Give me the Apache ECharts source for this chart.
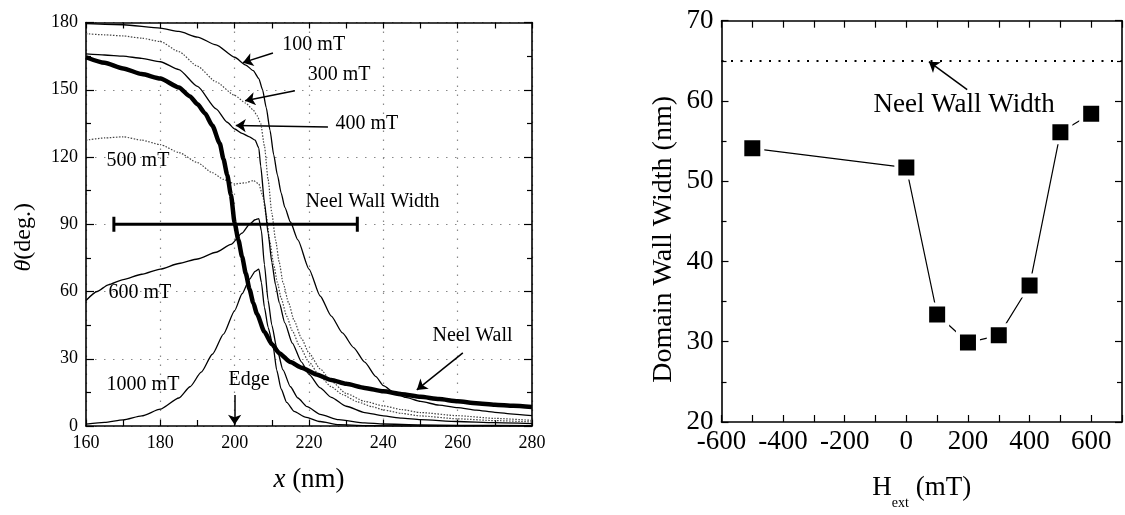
<!DOCTYPE html>
<html>
<head>
<meta charset="utf-8">
<script src="https://cdn.jsdelivr.net/npm/echarts@6/dist/echarts.min.js"></script>
<style>
html, body { margin: 0; padding: 0; background: #fff; }
#chart { width: 1125px; height: 515px; }
</style>
</head>
<body>
<div id="chart"></div>
<script>
var serif = 'Liberation Serif';

// left panel : theta(x) profiles for several fields, x in nm, theta in deg
var neelWall = [[160,164.5],[165,162],[170,159.5],[175,157],[180,155],[185,151],[188,147],[190,143.5],[192,139.5],[194,134],[196,126],[197,119],[198,112],[199,103],[200,90.5],[201,83],[202,75.5],[203,68],[204,61],[205,55],[206,50],[208,42],[210,36.5],[212,32.5],[215,28.5],[218,26],[222,23],[226,20.5],[230,18.8],[235,17],[240,15.5],[245,14.2],[250,13],[255,12],[260,11],[265,10.2],[270,9.5],[275,9],[280,8.5]];
var field100 = [[160,179.5],[170,179],[180,177.5],[185,176],[190,173.5],[195,170],[200,164.5],[203,161],[205,158.5],[206.5,155],[207.5,150],[208.5,142],[209.5,132],[210.5,121],[211.5,112],[212.5,104],[213.5,97.5],[215,91],[217,83],[220,70],[223,58],[226,49],[229,41.5],[232,35],[235,28.5],[238,22],[240,18],[243,14.8],[246,12.8],[250,11],[255,9.3],[260,8.2],[265,7.1],[270,6.1],[275,5.3],[280,4.6]];
var field300 = [[160,175],[165,174.5],[170,174],[175,173],[180,171.5],[185,167],[190,160.5],[195,153.5],[200,147.5],[203,144],[205,141],[206,138.5],[207,135],[208,125],[209,110],[210,95],[211,83],[212,73],[213,64],[214.5,55],[216,47],[218,39],[220,32.5],[223,25.5],[226,20],[230,14.5],[235,11],[240,9],[245,7.3],[250,6],[260,4.6],[270,3.4],[280,2.5]];
var field400 = [[160,166],[165,165.5],[170,165],[175,164],[180,162.5],[185,159],[190,151.5],[195,141.5],[198,135.5],[200,132.5],[202,130.5],[204,129],[205.5,127.5],[206.5,124],[207,116],[208,100],[209,86],[210,73],[211,63],[212,55],[213.5,46],[215.5,37],[218,28.5],[220,23],[223,17],[226,12.8],[230,8.8],[235,6],[240,4.5],[245,3.5],[250,2.8],[260,2],[270,1.5],[280,1.1]];
var field500 = [[160,127.5],[165,128.5],[170,129],[175,127.5],[180,125.5],[185,122],[190,117.5],[194,113],[197,110],[200,108],[203,108.5],[205,109.5],[206.5,108],[207.5,103],[208.5,94],[209.5,82],[210.5,72],[211.5,64],[212.5,57],[214,49],[215.5,42.5],[217.5,35.5],[220,28.5],[223,22],[226,17.5],[229,14],[233,10.8],[237,8.6],[240,7.2],[245,5.6],[250,4.5],[260,3.2],[270,2.4],[280,1.8]];
var field600 = [[160,56],[163,60],[166,63],[170,65.3],[175,67.7],[180,70],[185,72.5],[190,74.5],[195,77.5],[199,81],[202,86],[204,90],[205.5,92],[206.5,92.5],[207.2,87],[208,72],[209,56],[210,45],[211.3,35],[213,25],[215,17.5],[217,12.5],[219.5,8.6],[223,5.2],[228,2.8],[235,1.4],[240,0.9],[250,0.5],[260,0.3],[280,0.2]];
var field1000 = [[160,0.8],[165,1.6],[170,2.7],[175,4.5],[180,7.5],[185,12.5],[188,17.5],[191,24],[194,32],[197,41],[200,51.5],[202,59],[204,65.5],[205.5,69],[206.5,70],[207.2,64],[208,53],[209,44],[210.4,35],[211.3,25],[212.5,16.5],[214,10.5],[216,6.5],[219,4],[223,2],[228,0.6],[235,0.2],[250,0],[280,0]];
var wallBar = [[167.5, 90], [233, 90]];

// right panel : domain wall width vs external field
var hExt = [-500, 0, 100, 200, 300, 400, 500, 600];
var wallWidth = [54.1, 51.7, 33.4, 29.9, 30.8, 37.0, 56.1, 58.4];
var neelWidth = 65;

// annotations, in data units
var leftLabels = [
  {name: '100 mT', value: [212.7, 169.9]},
  {name: '300 mT', value: [219.5, 156.6]},
  {name: '400 mT', value: [227, 134.7]},
  {name: '500 mT', value: [165.4, 118.2]},
  {name: 'Neel Wall Width', value: [218.9, 99.9]},
  {name: '600 mT', value: [165.9, 59.3]},
  {name: '1000 mT', value: [165.4, 18.3]},
  {name: 'Edge', value: [198.2, 20.5]},
  {name: 'Neel Wall', value: [253.1, 40.1]}
];
var leftArrows = [
  [[210.3, 166.4], [202.2, 162.1]],
  [[216.2, 149.6], [202.8, 145.1]],
  [[225.1, 133.4], [200.3, 134.1]],
  [[200, 13.8], [200, 0.6]],
  [[261.4, 32.6], [249, 16.1]]
];
var rightLabels = [{name: 'Neel Wall Width', value: [-108.3, 59.5]}];
var rightArrows = [[[197.5, 61.4], [73.2, 64.9]]];

var solid = {color: '#000', width: 1.3};
var dotted = {color: '#444', width: 1.2, type: [1.5, 1.5]};

function curve(name, data, style) {
  return {
    name: name, type: 'line', data: data,
    xAxisIndex: 0, yAxisIndex: 0,
    symbol: 'none', smooth: 0.2, smoothMonotone: 'x',
    lineStyle: style, z: 3, silent: true
  };
}

var tickStyle = {color: '#000', width: 1.2};
var axisLine = {show: true, onZero: false, lineStyle: {color: '#000', width: 1.6}};
var gridDots = {show: true, lineStyle: {color: '#888', width: 1.2, type: [1.5, 7.5]}};

function mirror(base) {
  return Object.assign({
    axisLabel: {show: false},
    splitLine: {show: false}
  }, base);
}

var mychart = echarts.init(document.getElementById('chart'));

var option = {
  animation: false,
  backgroundColor: '#fff',
  textStyle: {fontFamily: serif, color: '#000'},
  grid: [
    {left: 86, top: 22.5, width: 446, height: 403.5},
    {left: 721.5, top: 20.7, width: 407.3, height: 409.3}
  ],
  xAxis: [
    {
      gridIndex: 0, type: 'value', position: 'bottom', min: 160, max: 280, interval: 20,
      axisLine: axisLine,
      axisTick: {inside: true, length: 6, lineStyle: tickStyle},
      minorTick: {show: true, splitNumber: 2, length: 6, lineStyle: tickStyle},
      axisLabel: {fontFamily: serif, fontSize: 18, color: '#000', margin: 8},
      splitLine: gridDots,
      name: '{i|x} (nm)', nameLocation: 'middle', nameGap: 40,
      nameTextStyle: {fontFamily: serif, fontSize: 27, color: '#000',
        rich: {i: {fontFamily: serif, fontSize: 27, fontStyle: 'italic', color: '#000'}}}
    },
    mirror({
      gridIndex: 0, type: 'value', position: 'top', min: 160, max: 280, interval: 20,
      axisLine: axisLine,
      axisTick: {inside: true, length: 6, lineStyle: tickStyle},
      minorTick: {show: true, splitNumber: 2, length: 6, lineStyle: tickStyle}
    }),
    {
      gridIndex: 1, type: 'value', position: 'bottom', min: -600, max: 700, interval: 100,
      axisLine: axisLine,
      axisTick: {inside: true, length: 7, lineStyle: tickStyle},
      axisLabel: {fontFamily: serif, fontSize: 27, color: '#000', margin: 6,
        formatter: function (v) { return (v % 200 === 0 && v < 700) ? String(v) : ''; }},
      splitLine: {show: false},
      name: '{h|H}{s|ext}{h| (mT)}', nameLocation: 'middle', nameGap: 52,
      nameTextStyle: {fontFamily: serif, fontSize: 27, color: '#000',
        rich: {
          h: {fontFamily: serif, fontSize: 27, lineHeight: 30, verticalAlign: 'top', color: '#000'},
          s: {fontFamily: serif, fontSize: 14, lineHeight: 14, padding: [22, 0, 0, 0], verticalAlign: 'top', color: '#000'}
        }}
    },
    mirror({
      gridIndex: 1, type: 'value', position: 'top', min: -600, max: 700, interval: 100,
      axisLine: axisLine,
      axisTick: {inside: true, length: 7, lineStyle: tickStyle}
    })
  ],
  yAxis: [
    {
      gridIndex: 0, type: 'value', position: 'left', min: 0, max: 180, interval: 30,
      axisLine: axisLine,
      axisTick: {inside: true, length: 8, lineStyle: tickStyle},
      minorTick: {show: true, splitNumber: 2, length: 5, lineStyle: tickStyle},
      axisLabel: {fontFamily: serif, fontSize: 18, color: '#000', margin: 8},
      splitLine: gridDots,
      name: '{i|θ}(deg.)', nameLocation: 'middle', nameRotate: 90, nameGap: 50,
      nameTextStyle: {fontFamily: serif, fontSize: 24, color: '#000', padding: [0, 26, 0, 0],
        rich: {i: {fontFamily: serif, fontSize: 24, fontStyle: 'italic', color: '#000'}}}
    },
    mirror({
      gridIndex: 0, type: 'value', position: 'right', min: 0, max: 180, interval: 30,
      axisLine: axisLine,
      axisTick: {inside: true, length: 8, lineStyle: tickStyle},
      minorTick: {show: true, splitNumber: 2, length: 5, lineStyle: tickStyle}
    }),
    {
      gridIndex: 1, type: 'value', position: 'left', min: 20, max: 70, interval: 10,
      axisLine: axisLine,
      axisTick: {inside: true, length: 7, lineStyle: tickStyle},
      minorTick: {show: true, splitNumber: 2, length: 5, lineStyle: tickStyle},
      axisLabel: {fontFamily: serif, fontSize: 27, color: '#000', margin: 8},
      splitLine: {show: false},
      name: 'Domain Wall Width (nm)', nameLocation: 'middle', nameRotate: 90, nameGap: 44,
      nameTextStyle: {fontFamily: serif, fontSize: 28, color: '#000', padding: [0, 36, 0, 0]}
    },
    mirror({
      gridIndex: 1, type: 'value', position: 'right', min: 20, max: 70, interval: 10,
      axisLine: axisLine,
      axisTick: {inside: true, length: 7, lineStyle: tickStyle},
      minorTick: {show: true, splitNumber: 2, length: 5, lineStyle: tickStyle}
    })
  ],
  series: [
    curve('1000 mT', field1000, solid),
    curve('600 mT', field600, solid),
    curve('500 mT', field500, dotted),
    curve('400 mT', field400, solid),
    curve('300 mT', field300, dotted),
    curve('100 mT', field100, solid),
    curve('Neel Wall', neelWall, {color: '#000', width: 4.5}),
    {
      name: 'Neel Wall Width', type: 'line', data: wallBar,
      xAxisIndex: 0, yAxisIndex: 0, silent: true,
      symbol: 'rect', symbolSize: [3, 15], showSymbol: true,
      itemStyle: {color: '#000'}, lineStyle: {color: '#000', width: 3}
    },
    {
      type: 'scatter', xAxisIndex: 0, yAxisIndex: 0, silent: true,
      symbolSize: 1, itemStyle: {color: 'rgba(0,0,0,0)', opacity: 1},
      data: leftLabels,
      label: {show: true, formatter: '{b}', position: 'right', distance: 0, opacity: 1,
        fontFamily: serif, fontSize: 20, color: '#000'}
    },
    {
      type: 'lines', coordinateSystem: 'cartesian2d', xAxisIndex: 0, yAxisIndex: 0, silent: true,
      symbol: ['none', 'arrow'], symbolSize: 10,
      lineStyle: {color: '#000', width: 1.5, opacity: 1, curveness: 0},
      data: leftArrows.map(function (c) { return {coords: c}; })
    },
    {
      name: 'Domain Wall Width', type: 'line', xAxisIndex: 2, yAxisIndex: 2,
      data: hExt.map(function (h, i) { return [h, wallWidth[i]]; }),
      symbol: 'rect', symbolSize: 20, silent: true,
      itemStyle: {color: '#000', borderColor: '#fff', borderWidth: 4},
      lineStyle: {color: '#000', width: 1.2},
      markLine: {
        silent: true, symbol: 'none', label: {show: false},
        lineStyle: {color: '#000', width: 2, type: [2, 7.5]},
        data: [{yAxis: neelWidth}]
      }
    },
    {
      type: 'scatter', xAxisIndex: 2, yAxisIndex: 2, silent: true,
      symbolSize: 1, itemStyle: {color: 'rgba(0,0,0,0)', opacity: 1},
      data: rightLabels,
      label: {show: true, formatter: '{b}', position: 'right', distance: 0, opacity: 1,
        fontFamily: serif, fontSize: 27, color: '#000'}
    },
    {
      type: 'lines', coordinateSystem: 'cartesian2d', xAxisIndex: 2, yAxisIndex: 2, silent: true,
      symbol: ['none', 'arrow'], symbolSize: 10,
      lineStyle: {color: '#000', width: 1.5, opacity: 1, curveness: 0},
      data: rightArrows.map(function (c) { return {coords: c}; })
    }
  ]
};

mychart.setOption(option);
</script>
</body>
</html>
